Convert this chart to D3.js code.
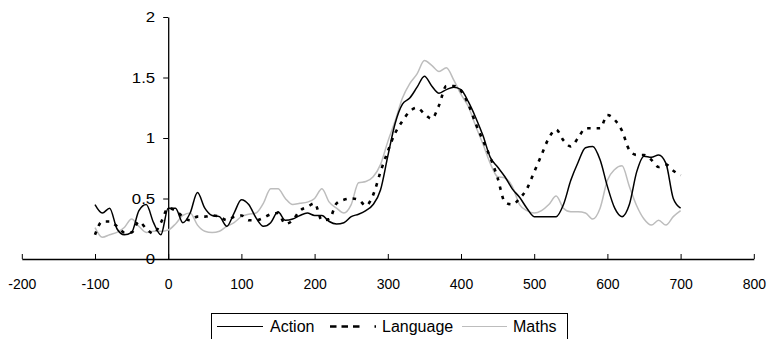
<!DOCTYPE html>
<html>
<head>
<meta charset="utf-8">
<script src="https://cdn.jsdelivr.net/npm/d3@7"></script>
<style>
  body { margin: 0; background: #fff; }
  svg { display: block; font-family: Arial, "Liberation Sans", sans-serif; }
</style>
</head>
<body>
<div id="chart"></div>
<script>
const times = d3.range(-100, 701, 10);

const action = [
  0.45, 0.38, 0.42, 0.25, 0.2, 0.22, 0.4, 0.45, 0.3, 0.2,
  0.42, 0.42, 0.3, 0.38, 0.55, 0.42, 0.36, 0.35, 0.27, 0.38,
  0.49, 0.45, 0.34, 0.27, 0.3, 0.39, 0.32, 0.33, 0.36, 0.38,
  0.36, 0.36, 0.31, 0.29, 0.3, 0.35, 0.37, 0.4, 0.45, 0.57,
  0.85, 1.12, 1.28, 1.33, 1.42, 1.51, 1.43, 1.37, 1.4, 1.42,
  1.4, 1.3, 1.17, 1.02, 0.84, 0.76, 0.68, 0.58, 0.51, 0.42,
  0.35, 0.35, 0.35, 0.35, 0.45, 0.65, 0.8, 0.92, 0.93, 0.82,
  0.6, 0.42, 0.35, 0.45, 0.72, 0.85, 0.84, 0.86, 0.79, 0.5,
  0.42
];

const language = [
  0.2, 0.31, 0.31, 0.27, 0.22, 0.22, 0.31, 0.25, 0.21, 0.3,
  0.42, 0.4, 0.35, 0.32, 0.35, 0.35, 0.36, 0.35, 0.32, 0.35,
  0.36, 0.32, 0.32, 0.34, 0.37, 0.38, 0.29, 0.32, 0.4, 0.43,
  0.46, 0.32, 0.33, 0.46, 0.49, 0.5, 0.49, 0.44, 0.53, 0.72,
  0.89, 1.04, 1.14, 1.22, 1.25, 1.2, 1.16, 1.27, 1.43, 1.43,
  1.39, 1.28, 1.12, 0.98, 0.84, 0.67, 0.47, 0.45, 0.5, 0.58,
  0.72, 0.86, 1.0, 1.07, 0.98, 0.93, 1.0, 1.08, 1.08, 1.08,
  1.19, 1.15, 1.06, 0.9, 0.86, 0.86, 0.82, 0.76, 0.78, 0.73,
  0.69
];

const maths = [
  0.26, 0.18, 0.2, 0.22, 0.26, 0.33, 0.27, 0.22, 0.23, 0.23,
  0.24, 0.29, 0.36, 0.38, 0.28, 0.23, 0.22, 0.23, 0.27, 0.3,
  0.35, 0.37, 0.38, 0.46, 0.58, 0.58, 0.5, 0.45, 0.46, 0.47,
  0.5, 0.58, 0.47, 0.42, 0.38, 0.45, 0.63, 0.64, 0.68, 0.78,
  0.97, 1.14, 1.33, 1.45, 1.53, 1.64, 1.6, 1.55, 1.58, 1.48,
  1.36, 1.26, 1.1, 0.95, 0.79, 0.68, 0.67, 0.6, 0.45, 0.4,
  0.38, 0.4, 0.45, 0.52, 0.42, 0.39, 0.39, 0.38, 0.33, 0.42,
  0.65, 0.74, 0.77, 0.6, 0.44, 0.33, 0.28, 0.32, 0.28, 0.35,
  0.4
];

const xTicks = d3.range(-200, 801, 100);
const yTicks = [0, 0.5, 1, 1.5, 2];
const seriesNames = ["Action", "Language", "Maths"];

const width = 770;
const height = 339;

const series = [
  { name: "Action", values: action, color: "#000", width: 1.5, dash: null, legendDash: null },
  { name: "Language", values: language, color: "#000", width: 2.6, dash: "3.5,6", legendDash: "6.5,5,6.5,5,6.5,15,1.5,20" },
  { name: "Maths", values: maths, color: "#bdbdbd", width: 1.5, dash: null, legendDash: null },
];

const svg = d3.select("#chart")
  .append("svg")
  .attr("width", width)
  .attr("height", height);

const xScale = d3.scaleLinear().domain([-200, 800]).range([21.8, 753.8]);
const yScale = d3.scaleLinear().domain([0, 2]).range([259, 17]);

// x axis, ticks pointing up
const xAxis = svg.append("g")
  .attr("transform", `translate(0, ${yScale(0)})`)
  .call(d3.axisBottom(xScale).tickValues(xTicks).tickFormat((d) => String(d))
    .tickSize(-5).tickSizeOuter(0).tickPadding(0));
xAxis.select(".domain").attr("stroke", "#000").attr("stroke-width", 1.3);
xAxis.selectAll(".tick line").attr("stroke", "#000");
xAxis.selectAll(".tick text")
  .attr("y", 30)
  .attr("dy", 0)
  .attr("font-size", 14)
  .attr("fill", "#000");

// y axis at x = 0
const yAxis = svg.append("g")
  .attr("transform", `translate(${xScale(0)}, 0)`)
  .call(d3.axisLeft(yScale).tickValues(yTicks).tickFormat((d) => String(d))
    .tickSize(5).tickSizeOuter(0).tickPadding(0));
yAxis.select(".domain").attr("stroke", "#000").attr("stroke-width", 1.3);
yAxis.selectAll(".tick line").attr("stroke", "#000");
yAxis.selectAll(".tick text")
  .attr("x", null)
  .attr("dy", null)
  .attr("font-size", 14)
  .attr("fill", "#000")
  .attr("dominant-baseline", "central")
  .attr("transform", "translate(-13, 0) scale(1.2, 1)");

const line = d3.line()
  .x((d, i) => xScale(times[i]))
  .y((d) => yScale(d))
  .curve(d3.curveMonotoneX);

svg.append("g")
  .selectAll("path")
  .data(series.slice().reverse())
  .join("path")
  .attr("d", (d) => line(d.values))
  .attr("fill", "none")
  .attr("stroke", (d) => d.color)
  .attr("stroke-width", (d) => d.width)
  .attr("stroke-dasharray", (d) => d.dash)
  .attr("stroke-linejoin", "round");

// legend
const legend = svg.append("g").attr("class", "legend");
legend.append("rect")
  .attr("x", 211.5)
  .attr("y", 313.5)
  .attr("width", 356)
  .attr("height", 40)
  .attr("fill", "#fff")
  .attr("stroke", "#000");

const legendItems = [
  { x1: 217, x2: 263, tx: 270 },
  { x1: 330, x2: 377, tx: 382 },
  { x1: 462, x2: 507, tx: 513 },
];

series.forEach((s, i) => {
  const it = legendItems[i];
  legend.append("line")
    .attr("x1", it.x1)
    .attr("x2", it.x2)
    .attr("y1", 326.5)
    .attr("y2", 326.5)
    .attr("stroke", s.color)
    .attr("stroke-width", s.name === "Language" ? 2.6 : 1.2)
    .attr("stroke-dasharray", s.legendDash);
  legend.append("text")
    .attr("x", it.tx)
    .attr("y", 332)
    .attr("font-size", 16)
    .attr("fill", "#000")
    .attr("text-anchor", "start")
    .text(seriesNames[i]);
});
</script>
</body>
</html>
